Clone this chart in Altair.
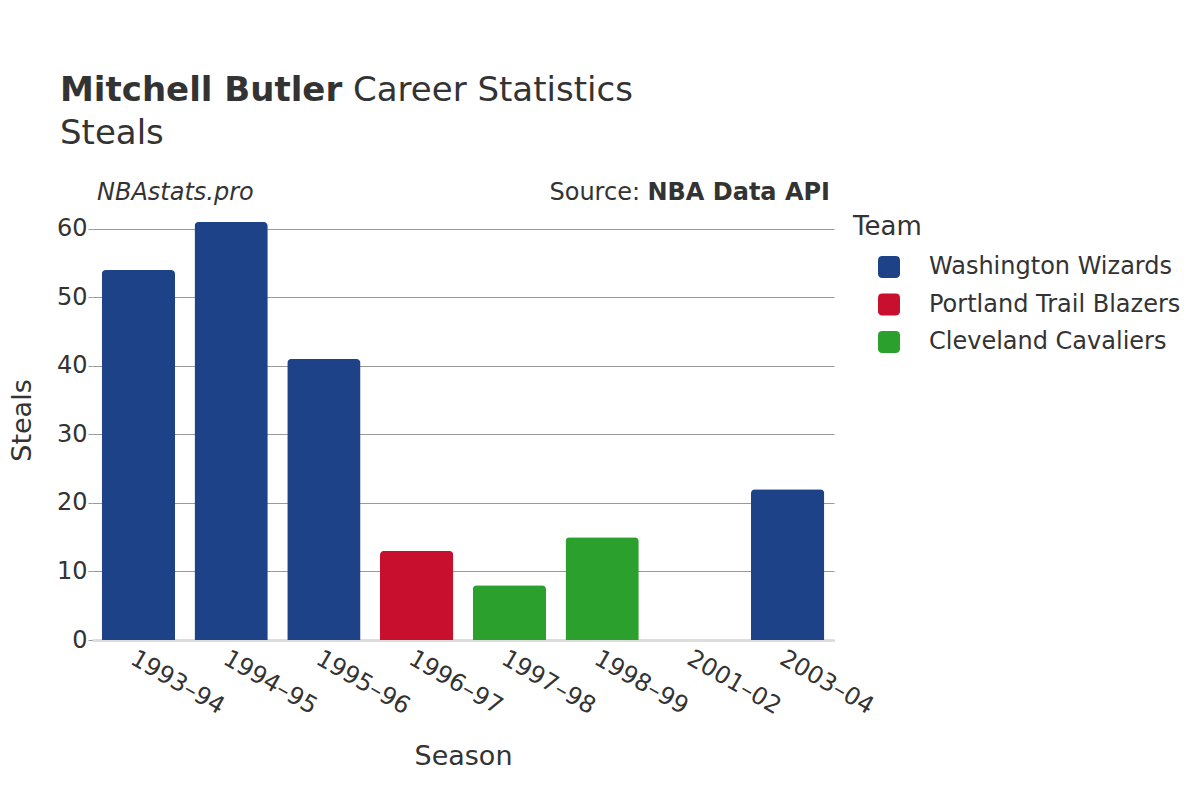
import altair as alt
import pandas as pd

seasons = ["1993-94", "1994-95", "1995-96", "1996-97", "1997-98", "1998-99", "2001-02", "2003-04"]
steals = [54, 61, 41, 13, 8, 15, 0, 22]
teams = ["Washington Wizards", "Washington Wizards", "Washington Wizards",
         "Portland Trail Blazers", "Cleveland Cavaliers", "Cleveland Cavaliers",
         "Portland Trail Blazers", "Washington Wizards"]
team_order = ["Washington Wizards", "Portland Trail Blazers", "Cleveland Cavaliers"]
team_colors = ["#1d4287", "#c8102e", "#2ca02c"]

df = pd.DataFrame({"Season": [s.replace("-", "–") for s in seasons], "Steals": steals, "Team": teams})

FONT = "DejaVu Sans"
W, H = 742, 418
rounded = "M -0.6 -1 H 0.6 Q 1 -1 1 -0.6 V 0.6 Q 1 1 0.6 1 H -0.6 Q -1 1 -1 0.6 V -0.6 Q -1 -1 -0.6 -1 Z"

bars = alt.Chart(df).mark_bar(cornerRadiusTopLeft=4, cornerRadiusTopRight=4).encode(
    x=alt.X("Season:N", sort=None, title="Season",
            scale=alt.Scale(paddingInner=0.21, paddingOuter=0.105),
            axis=alt.Axis(labelAngle=30, labelAlign="left", labelBaseline="top",
                          labelFontSize=24, labelColor="#333", titleFontSize=27,
                          titleColor="#333", titleFontWeight="normal", titlePadding=25,
                          ticks=False, domain=True, domainColor="#dddddd", domainWidth=3,
                          labelPadding=6, labelLimit=300)),
    y=alt.Y("Steals:Q", title="Steals",
            scale=alt.Scale(domain=[0, 61], nice=False),
            axis=alt.Axis(values=[0, 10, 20, 30, 40, 50, 60], labelFontSize=24, labelColor="#333",
                          titleFontSize=27, titleColor="#333", titleFontWeight="normal",
                          titleX=-70, titleY=198, titleAlign="center", titleBaseline="middle",
                          titleAngle=270,
                          gridColor="#999999", gridWidth=1, domain=False,
                          tickColor="#999999", tickSize=4, labelPadding=1)),
    color=alt.Color("Team:N", scale=alt.Scale(domain=team_order, range=team_colors),
                    legend=alt.Legend(title="Team", titleFontSize=26, titleColor="#333",
                                      titleFontWeight="normal", labelFontSize=24,
                                      labelColor="#333", symbolType=rounded, symbolSize=484,
                                      symbolStrokeWidth=0, symbolOpacity=1, rowPadding=13.5,
                                      labelOffset=28, symbolOffset=24, titlePadding=15,
                                      labelLimit=400, orient="none", legendX=761, legendY=-8)),
)

def txt(text, x, y, size, weight="normal", style="normal", align="left"):
    return alt.Chart(pd.DataFrame({"t": [text]})).mark_text(
        font=FONT, fontSize=size, fontWeight=weight, fontStyle=style, align=align,
        baseline="alphabetic", color="#333").encode(
        x=alt.value(x), y=alt.value(y), text="t:N")

titles = (
    txt("Mitchell Butler", -32, -121, 34, weight="bold")
    + txt("Career Statistics", 261, -121, 34)
    + txt("Steals", -32, -78, 34)
    + txt("NBAstats.pro", 5, -22, 24, style="italic")
    + txt("Source:", 548, -22, 24, align="right")
    + txt("NBA Data API", 738, -22, 24, weight="bold", align="right")
)

chart = alt.layer(bars, titles).properties(
    width=W, height=H,
    autosize=alt.AutoSizeParams(type="none"),
    padding={"left": 84, "top": 214, "right": 354, "bottom": 140},
).configure(font=FONT).configure_view(stroke=None)

chart.save("out.html", embed_options={"renderer": "svg", "actions": False})
